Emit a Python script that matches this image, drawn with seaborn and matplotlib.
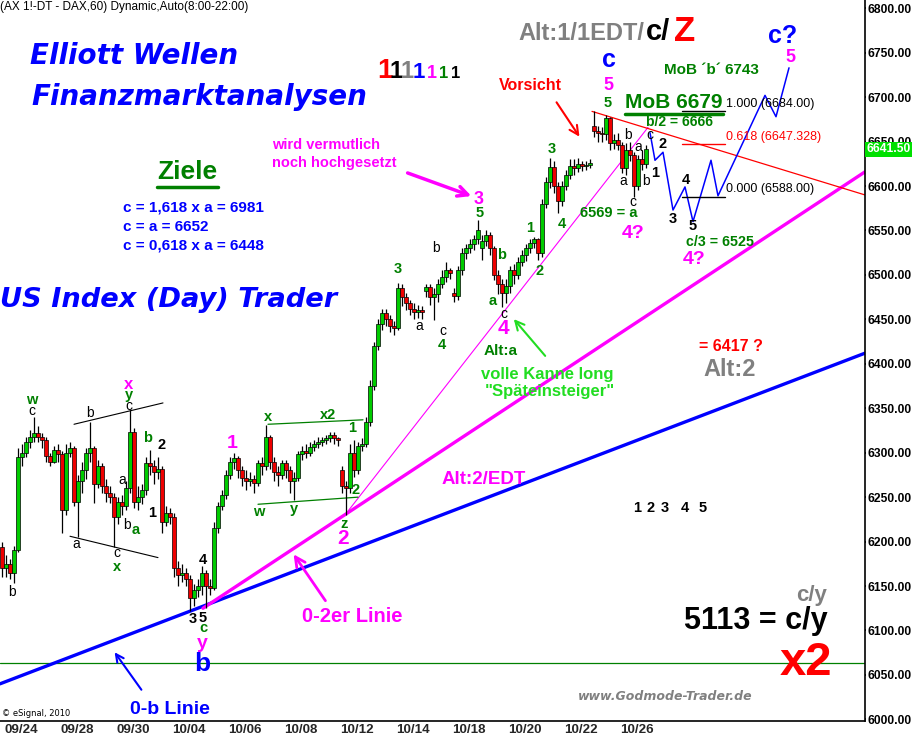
import matplotlib
matplotlib.use("Agg")
import matplotlib.pyplot as plt
from matplotlib.lines import Line2D
from matplotlib.transforms import blended_transform_factory
import numpy as np
import pandas as pd
import seaborn as sns

# ---------------- data (2-hour candles, DAX future, 23 Sep - 26 Oct 2010) ----------------
opens = [6194, 6170, 6175, 6165, 6190, 6295, 6300, 6312, 6318, 6322, 6318, 6314, 6296, 6290, 6303,
         6298, 6235, 6300, 6305, 6245, 6268, 6280, 6300, 6305, 6265, 6285, 6262, 6255, 6250, 6228,
         6245, 6240, 6260, 6323, 6245, 6250, 6258, 6288, 6285, 6278, 6282, 6222, 6232, 6228, 6170,
         6162, 6165, 6158, 6136, 6145, 6150, 6165, 6150, 6148, 6215, 6240, 6252, 6275, 6290, 6294,
         6280, 6272, 6268, 6270, 6266, 6288, 6285, 6318, 6290, 6278, 6275, 6288, 6280, 6268, 6272,
         6298, 6302, 6300, 6306, 6310, 6312, 6314, 6316, 6320, 6316, 6280, 6262, 6260, 6300, 6280,
         6308, 6310, 6335, 6375, 6420, 6445, 6457, 6450, 6443, 6440, 6485, 6475, 6468, 6462, 6458,
         6460, 6482, 6486, 6475, 6478, 6490, 6498, 6505, 6480, 6476, 6505, 6525, 6530, 6535, 6540,
         6530, 6538, 6545, 6530, 6500, 6490, 6480, 6488, 6505, 6500, 6515, 6522, 6530, 6536, 6540,
         6525, 6580, 6605, 6621, 6600, 6583, 6600, 6612, 6622, 6620, 6625, 6622, 6624, 6668, 6662,
         6660, 6658, 6676, 6648, 6652, 6646, 6620, 6640, 6635, 6600, 6630, 6625]
highs = [6200, 6185, 6180, 6195, 6305, 6310, 6318, 6325, 6340, 6330, 6322, 6318, 6300, 6308, 6310,
         6302, 6310, 6312, 6308, 6275, 6290, 6305, 6335, 6308, 6292, 6288, 6270, 6262, 6255, 6250,
         6252, 6268, 6348, 6328, 6262, 6265, 6295, 6303, 6292, 6295, 6285, 6240, 6238, 6232, 6178,
         6175, 6170, 6162, 6152, 6158, 6172, 6168, 6158, 6222, 6245, 6258, 6280, 6295, 6300, 6296,
         6285, 6280, 6278, 6275, 6292, 6295, 6331, 6320, 6295, 6285, 6292, 6292, 6285, 6278, 6302,
         6308, 6310, 6312, 6314, 6318, 6318, 6320, 6323, 6323, 6318, 6285, 6268, 6310, 6314, 6312,
         6316, 6340, 6382, 6425, 6450, 6462, 6462, 6455, 6448, 6491, 6490, 6480, 6472, 6468, 6466,
         6465, 6490, 6490, 6485, 6495, 6505, 6515, 6508, 6485, 6510, 6530, 6535, 6540, 6545, 6562,
         6545, 6550, 6548, 6532, 6505, 6495, 6495, 6510, 6512, 6520, 6528, 6535, 6540, 6543, 6542,
         6585, 6610, 6631, 6628, 6605, 6606, 6618, 6630, 6630, 6632, 6628, 6628, 6630, 6684, 6668,
         6666, 6680, 6678, 6658, 6660, 6650, 6648, 6650, 6638, 6635, 6640, 6646]
lows = [6160, 6160, 6158, 6153, 6188, 6285, 6295, 6305, 6312, 6312, 6305, 6290, 6285, 6288, 6290,
        6210, 6230, 6295, 6240, 6205, 6255, 6270, 6290, 6243, 6260, 6255, 6245, 6243, 6194, 6220,
        6230, 6235, 6255, 6238, 6236, 6242, 6252, 6275, 6265, 6270, 6210, 6218, 6220, 6160, 6150,
        6155, 6150, 6122, 6128, 6138, 6140, 6125, 6140, 6145, 6210, 6235, 6248, 6270, 6282, 6272,
        6262, 6258, 6262, 6255, 6262, 6275, 6280, 6282, 6268, 6262, 6270, 6272, 6255, 6247, 6268,
        6292, 6294, 6296, 6302, 6305, 6308, 6310, 6312, 6310, 6308, 6255, 6230, 6255, 6273, 6276,
        6302, 6306, 6330, 6370, 6415, 6438, 6442, 6436, 6432, 6438, 6465, 6460, 6455, 6450, 6452,
        6450, 6475, 6466, 6449, 6470, 6485, 6492, 6495, 6470, 6472, 6500, 6518, 6525, 6528, 6535,
        6517, 6532, 6522, 6494, 6478, 6464, 6468, 6480, 6490, 6495, 6510, 6516, 6525, 6530, 6517,
        6520, 6575, 6598, 6592, 6570, 6578, 6596, 6608, 6612, 6616, 6617, 6618, 6620, 6655, 6650,
        6650, 6652, 6640, 6642, 6640, 6615, 6612, 6628, 6588, 6596, 6618, 6620]
closes = [6170, 6175, 6165, 6190, 6295, 6300, 6312, 6318, 6322, 6318, 6314, 6296, 6290, 6303, 6298,
          6235, 6300, 6305, 6245, 6268, 6280, 6300, 6305, 6265, 6285, 6262, 6255, 6250, 6228, 6245,
          6240, 6260, 6323, 6245, 6250, 6258, 6288, 6285, 6278, 6282, 6222, 6232, 6228, 6170, 6162,
          6165, 6158, 6136, 6145, 6150, 6165, 6150, 6148, 6215, 6240, 6252, 6275, 6290, 6294, 6280,
          6272, 6268, 6270, 6266, 6288, 6285, 6318, 6290, 6278, 6275, 6288, 6280, 6268, 6272, 6298,
          6302, 6300, 6306, 6310, 6312, 6314, 6316, 6320, 6316, 6314, 6262, 6260, 6300, 6280, 6308,
          6310, 6335, 6375, 6420, 6445, 6457, 6450, 6443, 6440, 6485, 6475, 6468, 6462, 6458, 6460,
          6458, 6486, 6475, 6478, 6490, 6498, 6505, 6502, 6476, 6505, 6525, 6530, 6535, 6540, 6551,
          6538, 6545, 6530, 6500, 6490, 6480, 6488, 6505, 6500, 6515, 6522, 6530, 6536, 6540, 6525,
          6580, 6605, 6621, 6600, 6583, 6600, 6612, 6622, 6620, 6625, 6622, 6624, 6626, 6662, 6660,
          6658, 6676, 6648, 6652, 6646, 6620, 6640, 6635, 6600, 6630, 6625, 6641.5]

bars_per_day = 7
date_labels = ["09/24", "09/28", "09/30", "10/04", "10/06", "10/08", "10/12",
               "10/14", "10/18", "10/20", "10/22", "10/26"]
date_day_index = [0, 2, 4, 6, 8, 10, 12, 14, 16, 18, 20, 22]
price_ticks = list(range(6000, 6801, 50))
last_price = 6641.50

# trend lines (bar index, price)
line_0b_x, line_0b_y = [-0.5, 215.75], [6040, 6412]
line_02_x, line_02_y = [50.25, 215.75], [6125, 6616]
line_thin_x, line_thin_y = [85.75, 161.5], [6230, 6666]
line_red_x, line_red_y = [147.5, 215.75], [6684, 6590]
chan_blk_top_x, chan_blk_top_y = [18, 40.25], [6332, 6356]
chan_blk_bot_x, chan_blk_bot_y = [17, 39], [6206, 6182]
chan_grn_top_x, chan_grn_top_y = [66.5, 90.25], [6332, 6337]
chan_grn_bot_x, chan_grn_bot_y = [64, 89], [6242, 6250]
proj_x = [162, 163.25, 165.25, 167.75, 170.75, 172.75, 177.25, 179, 190.75, 193.5, 196.75]
proj_y = [6660, 6629, 6638, 6573, 6599, 6560, 6629, 6589, 6702, 6678, 6733]
fib_levels = [6684.0, 6647.328, 6588.0]
fib_colors = ["black", "red", "black"]
fib_x = [170, 180.75]
green_hline = 6063

# ---------------- figure ----------------
sns.set_theme(style="white")
plt.rcParams["font.family"] = ["Liberation Sans", "DejaVu Sans"]

W, H = 913, 738
fig = plt.figure(figsize=(W / 100, H / 100), dpi=100)
ax = fig.add_axes([0, 1 - 721 / H, 865 / W, 721 / H])
ax.set_facecolor("white")

df = pd.DataFrame({"o": opens, "h": highs, "l": lows, "c": closes})
df["x"] = np.arange(len(df))
up = df["c"] >= df["o"]

ax.vlines(df["x"], df["l"], df["h"], color="black", lw=0.9, zorder=3)
body_bottom = np.minimum(df["o"], df["c"])
body_h = np.maximum(np.abs(df["c"] - df["o"]), 1.5)
ax.bar(df["x"], body_h, bottom=body_bottom, width=0.78,
       color=np.where(up, "#00cc00", "#ee0000"), edgecolor="black", linewidth=0.5, zorder=4)

# lines
def sline(xs, ys, color, lw, z=2):
    sns.lineplot(x=xs, y=ys, ax=ax, color=color, lw=lw, sort=False, estimator=None, zorder=z)

sline(line_0b_x, line_0b_y, "#0000ff", 2.4)
sline(line_02_x, line_02_y, "#ff00ff", 2.4)
sline(line_thin_x, line_thin_y, "#ff00ff", 0.8)
sline(line_red_x, line_red_y, "#ff0000", 0.9)
sline(chan_blk_top_x, chan_blk_top_y, "black", 0.8)
sline(chan_blk_bot_x, chan_blk_bot_y, "black", 0.8)
sline(chan_grn_top_x, chan_grn_top_y, "#008000", 0.9)
sline(chan_grn_bot_x, chan_grn_bot_y, "#008000", 0.9)
sline(proj_x, proj_y, "#0000ff", 1.1)
for lvl, col in zip(fib_levels, fib_colors):
    sline(fib_x, [lvl, lvl], col, 1.0)
ax.axhline(green_hline, color="#008000", lw=0.9, zorder=1)

# axes
ax.set_xlim(-0.5, -0.5 + 865 / 4)
ax.set_ylim(6809.3 - 721 * 1.125, 6809.3)
ax.yaxis.tick_right()
ax.set_yticks(price_ticks)
ax.set_yticklabels([f"{p:.2f}" for p in price_ticks], fontsize=8.7, fontweight="bold")
ax.tick_params(axis="y", length=1, pad=1, colors="black")
ax.set_xticks([0.5 + bars_per_day * d for d in date_day_index])
ax.set_xticklabels(date_labels, fontsize=9.6, fontweight="bold", ha="left")
ax.tick_params(axis="x", length=0, pad=2)
for s in ["top", "left"]:
    ax.spines[s].set_visible(False)
for s in ["right", "bottom"]:
    ax.spines[s].set_color("black")
    ax.spines[s].set_linewidth(1.2)
ax.set_xlabel("")
ax.set_ylabel("")

# current price box
tr = blended_transform_factory(ax.transAxes, ax.transData)
ax.text(1.002, last_price, f"{last_price:.2f}", transform=tr, ha="left", va="center",
        fontsize=8.7, fontweight="bold", color="white",
        bbox=dict(boxstyle="square,pad=0.12", fc="#00e000", ec="none"))

# ---------------- annotations (pixel layout) ----------------
def P(px, py):
    return (px / W, 1 - py / H)

def T(s, px, py, color="black", size=10, weight="bold", style="normal", ha="center",
      va="center", family=None):
    kw = {}
    if family:
        kw["family"] = family
    fig.text(*P(px, py), s, color=color, fontsize=size, fontweight=weight, fontstyle=style,
             ha=ha, va=va, **kw)

def ARROW(x0, y0, x1, y1, color, lw, ms=14):
    ax.annotate("", xy=P(x1, y1), xytext=P(x0, y0), xycoords="figure fraction",
                textcoords="figure fraction",
                arrowprops=dict(arrowstyle="->", color=color, lw=lw, mutation_scale=ms))

def ULINE(x0, x1, py, color, lw):
    fig.add_artist(Line2D([x0 / W, x1 / W], [1 - py / H, 1 - py / H], color=color, lw=lw))

DV = ["DejaVu Sans"]
BLUE, MAG, GRN, GRAY, RED = "#0000ff", "#ff00ff", "#008000", "#808080", "#ff0000"

T("(AX 1!-DT - DAX,60) Dynamic,Auto(8:00-22:00)", 0, 7, size=8.5, weight="normal", ha="left")
T("Elliott Wellen", 30, 56, BLUE, 20, style="italic", ha="left", family=DV)
T("Finanzmarktanalysen", 31, 97, BLUE, 20, style="italic", ha="left", family=DV)
T("US Index (Day) Trader", 0, 300, BLUE, 19.6, style="italic", ha="left", family=DV)
T("www.Godmode-Trader.de", 665, 697, GRAY, 9, style="italic", family=DV)
T("\u00a9 eSignal, 2010", 2, 714, size=6, weight="normal", ha="left", family=DV)

for s, px, col, sz in [("1", 385, RED, 20), ("1", 396, "black", 17), ("1", 407, GRAY, 17),
                       ("1", 419, BLUE, 16), ("1", 432, MAG, 13), ("1", 444, GRN, 12),
                       ("1", 456, "black", 12)]:
    T(s, px, 78, col, sz, va="baseline")

T("Alt:1/1EDT/", 518, 40, GRAY, 17, ha="left", va="baseline")
T("c/", 646, 40, "black", 21, ha="left", va="baseline")
T("Z", 674, 41, RED, 25, ha="left", va="baseline")

T("Ziele", 187, 172, GRN, 19)
ULINE(157, 218, 187, GRN, 2.5)
T("c = 1,618 x a = 6981", 123, 208, BLUE, 11, ha="left")
T("c = a = 6652", 123, 227, BLUE, 11, ha="left")
T("c = 0,618 x a = 6448", 123, 246, BLUE, 11, ha="left")

T("wird vermutlich", 272, 145, MAG, 10.5, ha="left")
T("noch hochgesetzt", 272, 163, MAG, 10.5, ha="left")
ARROW(405, 172, 474, 197, MAG, 2.5, 18)

T("Vorsicht", 530, 86, RED, 11.5)
ARROW(555, 100, 581, 139, RED, 1.5, 16)

T("MoB \u00b4b\u00b4 6743", 711, 70, GRN, 11)
T("MoB 6679", 674, 103, GRN, 15)
ULINE(625, 723, 114, GRN, 2.5)
T("b/2 = 6666", 679, 122, GRN, 10)
T("1.000 (6684.00)", 726, 104, "black", 9, weight="normal", ha="left")
T("0.618 (6647.328)", 726, 137, RED, 9, weight="normal", ha="left")
T("0.000 (6588.00)", 726, 189, "black", 9, weight="normal", ha="left")
T("6569 = a", 609, 213, GRN, 10.5)
T("c/3 = 6525", 720, 242, GRN, 10.3)
T("Alt:a", 501, 351, GRN, 11)
T("volle Kanne long", 547, 374, "#22dd22", 12)
T("\"Sp\u00e4teinsteiger\"", 550, 391, "#22dd22", 12)
ARROW(547, 358, 512, 317, "#22dd22", 1.5, 16)
T("= 6417 ?", 731, 347, RED, 11.5)
T("Alt:2", 730, 369, GRAY, 17)
T("Alt:2/EDT", 484, 479, MAG, 13.5)
for s, px in zip(["1", "2", "3", "4", "5"], [637, 651, 665, 685, 703]):
    T(s, px, 508, "black", 10.5)
T("0-2er Linie", 352, 617, MAG, 14.5)
ARROW(327, 603, 292, 552, MAG, 2.0, 18)
T("0-b Linie", 170, 709, BLUE, 14)
ARROW(143, 692, 113, 650, BLUE, 1.5, 14)
T("c/y", 827, 601, GRAY, 16, ha="right", va="baseline")
T("5113 = c/y", 828, 629, "black", 22, ha="right", va="baseline")
T("x2", 832, 675, RED, 34, ha="right", va="baseline")

# wave labels
black_lbl = [("c", 32, 411), ("c", 129, 406), ("b", 90, 413), ("a", 122, 480), ("b", 127, 525),
             ("a", 76, 544), ("c", 117, 553), ("b", 12, 592), ("b", 436, 248), ("a", 419, 326),
             ("c", 443, 331), ("c", 504, 314), ("b", 628, 135), ("a", 623, 181), ("c", 633, 202),
             ("a", 638, 147), ("b", 646, 181), ("c", 650, 135)]
for s, px, py in black_lbl:
    T(s, px, py, "black", 10, weight="normal")
black_num = [("2", 162, 445), ("1", 152, 513), ("4", 203, 560), ("3", 193, 619), ("5", 203, 618),
             ("2", 663, 144), ("1", 655, 173), ("4", 686, 180), ("3", 673, 219), ("5", 693, 226)]
for s, px, py in black_num:
    T(s, px, py, "black", 10.5)
green_lbl = [("w", 32, 400), ("y", 129, 395), ("b", 148, 438), ("a", 136, 530), ("x", 117, 567),
             ("c", 203, 628), ("x", 268, 417), ("x2", 328, 415), ("1", 352, 428), ("2", 356, 490),
             ("w", 259, 512), ("y", 294, 509), ("z", 344, 524), ("3", 398, 269), ("4", 442, 345),
             ("5", 480, 213), ("b", 502, 255), ("a", 493, 301), ("1", 530, 228), ("2", 540, 271),
             ("3", 552, 149), ("4", 562, 224), ("5", 608, 103)]
for s, px, py in green_lbl:
    T(s, px, py, GRN, 10.5)
mag_lbl = [("x", 129, 384, 12), ("y", 202, 643, 14), ("1", 232, 443, 14), ("2", 343, 539, 15),
           ("3", 479, 199, 13), ("4", 503, 329, 15), ("5", 608, 85, 13), ("5", 790, 57, 13),
           ("4?", 633, 233, 14), ("4?", 694, 260, 14)]
for s, px, py, sz in mag_lbl:
    T(s, px, py, MAG, sz)
for s, px, py, sz in [("b", 202, 664, 19), ("c", 609, 60, 18), ("c?", 783, 36, 18)]:
    T(s, px, py, BLUE, sz)

fig.savefig("out.png", dpi=100, facecolor="white")
